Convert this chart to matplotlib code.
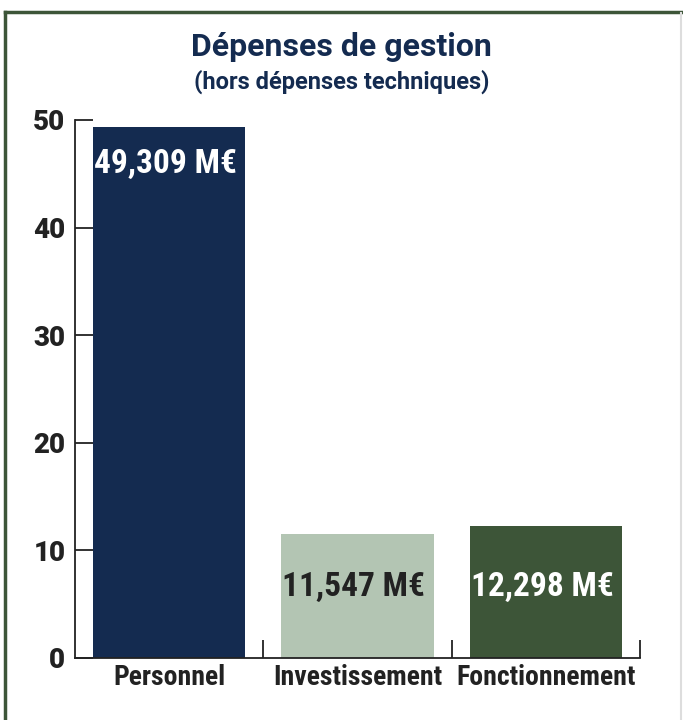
import matplotlib
matplotlib.use("Agg")
import matplotlib.pyplot as plt
from matplotlib import font_manager
from matplotlib.lines import Line2D

categories = ["Personnel", "Investissement", "Fonctionnement"]
values = [49.309, 11.547, 12.298]
value_labels = ["49,309 M€", "11,547 M€", "12,298 M€"]
bar_colors = ["#142b50", "#b3c5b3", "#3d5538"]
label_colors = ["white", "#222222", "white"]

NAVY = "#142b50"
FRAME = "#3d5538"

installed = {f.name for f in font_manager.fontManager.ttflist}
narrow = next((f for f in ["Roboto Condensed", "Liberation Sans Narrow", "Roboto"] if f in installed), "DejaVu Sans")
main = "Roboto" if "Roboto" in installed else "DejaVu Sans"

fig = plt.figure(figsize=(6.83, 7.2), dpi=100)

# outer frame
fig.add_artist(Line2D([5 / 683, 5 / 683], [0, 1 - 12 / 720], color=FRAME, lw=2.5, transform=fig.transFigure))
fig.add_artist(Line2D([5 / 683, 1], [1 - 12 / 720, 1 - 12 / 720], color=FRAME, lw=2.5, transform=fig.transFigure))
fig.add_artist(Line2D([681 / 683, 681 / 683], [0, 1 - 13 / 720], color="#dddddd", lw=1.5, transform=fig.transFigure))

fig.text(0.5, 1 - 47 / 720, "Dépenses de gestion", ha="center", va="center",
         fontsize=23, fontweight="bold", color=NAVY, family=main)
fig.text(0.5, 1 - 82 / 720, "(hors dépenses techniques)", ha="center", va="center",
         fontsize=17, fontweight="bold", color=NAVY, family=main)

ax = fig.add_axes([75 / 683, 62 / 720, 565 / 683, 538 / 720])
x = range(len(categories))
bars = ax.bar(x, values, width=0.81, color=bar_colors)

# label positions: near top of the tall bar, lower for the short ones
for i, (b, v) in enumerate(zip(bars, values)):
    y = v - 3.4 if v > 20 else 6.6
    ax.text(b.get_x() + b.get_width() / 2 - 0.02, y, value_labels[i], ha="center", va="center",
            fontsize=24, fontweight="bold", color=label_colors[i], family=narrow)

ax.set_xlim(-0.5, 2.5)
ax.set_ylim(0, 50)
ax.set_yticks([0, 10, 20, 30, 40, 50])
ax.set_xticks(list(x))
ax.set_xticklabels(categories, family=narrow, fontweight="bold", fontsize=20, color="#222222")
ax.set_xticks([0.5, 1.5, 2.5], minor=True)
ax.tick_params(axis="x", which="major", length=0, pad=4)
ax.tick_params(axis="x", which="minor", direction="in", length=13, width=1.3, color="#222222")
ax.tick_params(axis="y", direction="in", length=13, width=1.3, color="#222222", pad=7,
               labelsize=20, labelcolor="#222222")
for lab in ax.get_yticklabels():
    lab.set_fontweight("black")
    lab.set_family(main)
for s in ["top", "right"]:
    ax.spines[s].set_visible(False)
for s in ["left", "bottom"]:
    ax.spines[s].set_linewidth(1.3)
    ax.spines[s].set_color("#222222")

fig.savefig("out.png", dpi=100)
